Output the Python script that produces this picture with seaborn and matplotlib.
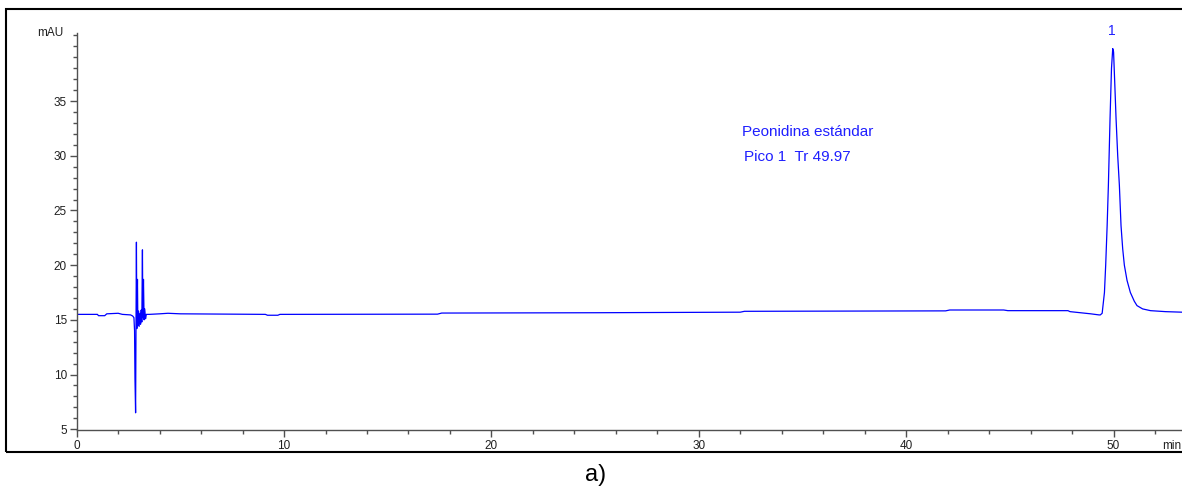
import matplotlib
matplotlib.use("Agg")
import matplotlib.pyplot as plt
from matplotlib.patches import Rectangle
from matplotlib.ticker import MultipleLocator
import seaborn as sns
import pandas as pd

# Retention time (min) and absorbance (mAU)
time_min = [0.0, 1.0, 1.05, 1.35, 1.45, 2.0, 2.2, 2.6, 2.70, 2.76, 2.79, 2.81, 2.84,
            2.86, 2.88, 2.90, 2.93, 2.95, 2.98, 3.01, 3.05, 3.08, 3.11, 3.14, 3.17,
            3.19, 3.22, 3.25, 3.28, 3.32, 3.36, 3.5, 4.0, 4.4, 5.0, 9.1, 9.2, 9.7,
            9.8, 17.4, 17.6, 25.0, 32.0, 32.2, 41.9, 42.1, 44.7, 44.9, 47.8, 47.9,
            48.9, 49.3, 49.36, 49.45, 49.56, 49.62, 49.69, 49.75, 49.83, 49.90,
            49.96, 50.00, 50.06, 50.12, 50.20, 50.28, 50.36, 50.44, 50.52, 50.65,
            50.81, 51.0, 51.13, 51.4, 51.78, 52.5, 53.3]
absorbance = [15.5, 15.5, 15.38, 15.38, 15.55, 15.6, 15.5, 15.45, 15.35, 15.2, 14.0,
              9.6, 6.5, 14.5, 22.1, 14.2, 18.7, 14.5, 15.8, 14.4, 15.6, 14.6, 15.9,
              14.8, 21.4, 15.2, 18.7, 15.0, 16.0, 15.1, 15.5, 15.5, 15.55, 15.6,
              15.55, 15.5, 15.42, 15.42, 15.5, 15.52, 15.62, 15.65, 15.7, 15.78,
              15.82, 15.9, 15.9, 15.84, 15.84, 15.75, 15.55, 15.45, 15.45, 15.6,
              17.5, 20.0, 23.6, 27.3, 33.4, 38.0, 39.8, 39.5, 36.5, 33.4, 30.0,
              27.3, 23.6, 21.5, 20.0, 18.6, 17.5, 16.7, 16.3, 16.0, 15.84, 15.75,
              15.7]

x_ticks = [0, 10, 20, 30, 40, 50]
y_ticks = [5, 10, 15, 20, 25, 30, 35]
title_lines = ["Peonidina estándar", "Pico 1  Tr 49.97"]
peak_label = "1"
peak_time = 49.96
peak_height = 39.8

df = pd.DataFrame({"t": time_min, "mAU": absorbance})

sns.set_style("white")
plt.rcParams["font.family"] = ["Liberation Sans", "DejaVu Sans"]

fig = plt.figure(figsize=(11.82, 4.90), dpi=100)
ax = fig.add_axes([76.7 / 1182, 59.7 / 490, 1 - 76.7 / 1182, (430.3 - 33.3) / 490])

sns.lineplot(data=df, x="t", y="mAU", ax=ax, color="#0000ff", linewidth=0.9,
             estimator=None, sort=False)

ax.set_xlim(0, 53.3)
ax.set_ylim(4.9, 41.2)
ax.set_xlabel("")
ax.set_ylabel("")
for s in ["top", "right"]:
    ax.spines[s].set_visible(False)
for s in ["left", "bottom"]:
    ax.spines[s].set_color("#505050")
    ax.spines[s].set_linewidth(1.0)

ax.set_xticks(x_ticks)
ax.set_xticklabels([str(v) for v in x_ticks])
ax.set_yticks(y_ticks)
ax.set_yticklabels([str(v) for v in y_ticks])
ax.xaxis.set_minor_locator(MultipleLocator(2))
ax.yaxis.set_minor_locator(MultipleLocator(1))
ax.tick_params(axis="both", which="major", direction="out", length=5, width=1,
               color="#505050", labelsize=8.5, labelcolor="#202020", pad=2)
ax.tick_params(axis="both", which="minor", direction="out", length=3, width=1,
               color="#505050")
ax.tick_params(axis="x", which="both", bottom=True)
ax.tick_params(axis="y", which="both", left=True)

# axis unit labels
ax.text(-0.012, 1.0, "mAU", transform=ax.transAxes, ha="right", va="center",
        fontsize=8.5, color="#202020")
ax.text(52.35, -0.04, "min", transform=ax.get_xaxis_transform(),
        ha="left", va="center", fontsize=8.5, color="#202020", clip_on=False)

# annotations
ax.text(32.1, 32.2, title_lines[0], ha="left", va="center", fontsize=11, color="#1f1fff")
ax.text(32.2, 29.9, title_lines[1], ha="left", va="center", fontsize=11, color="#1f1fff")
ax.text(peak_time - 0.05, peak_height + 1.6, peak_label, ha="center", va="center",
        fontsize=10, color="#1f1fff", clip_on=False)

# outer frame
fig.patches.append(Rectangle((6.3 / 1182, 38.3 / 490), 1.2, (451.7 - 9.3) / 490,
                             transform=fig.transFigure, fill=False,
                             edgecolor="black", linewidth=1.5, clip_on=False))

fig.text(596 / 1182, 1 - 475 / 490, "a)", ha="center", va="center", fontsize=17,
         color="black")

fig.savefig("out.png", dpi=100)
